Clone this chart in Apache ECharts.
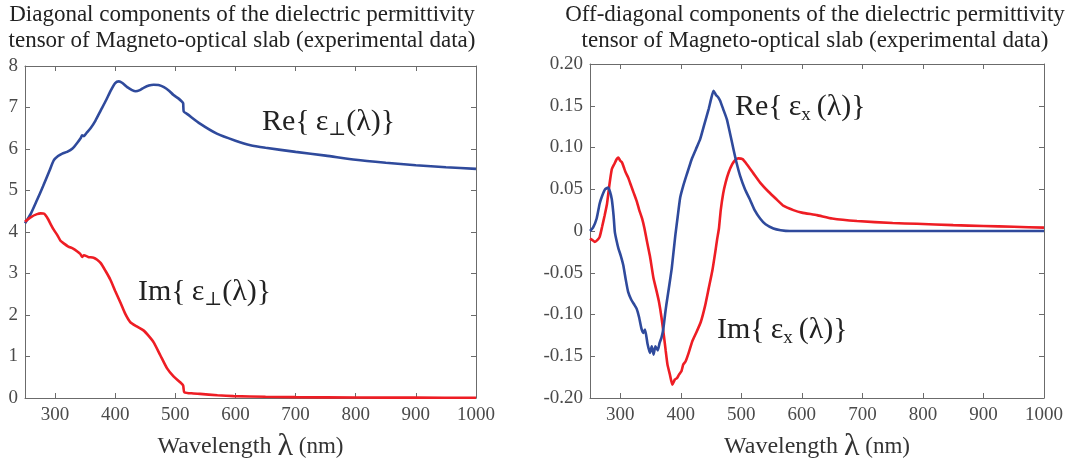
<!DOCTYPE html>
<html><head><meta charset="utf-8">
<script src="https://cdn.jsdelivr.net/npm/echarts@6/dist/echarts.min.js"></script>
<style>html,body{margin:0;padding:0;background:#fff}#c{width:1069px;height:468px}</style>
</head><body><div id="c"></div>
<script>
// ---- Data ----
const xTicks = [300,400,500,600,700,800,900,1000];

// Left panel: diagonal components
const diagReLambda = [250,260,270,280,290,298,305,312,320,329,337,343,345,348,352,359,367,376,385,393,400,406,412,420,428,434,441,448,456,464,472,481,490,497,505,511,513,514,520,541,569,600,625,650,700,750,800,850,900,950,1000];
const diagRe =       [4.21,4.45,4.77,5.10,5.45,5.73,5.83,5.89,5.93,6.01,6.15,6.27,6.33,6.31,6.38,6.50,6.68,6.93,7.18,7.42,7.59,7.63,7.59,7.49,7.42,7.39,7.42,7.48,7.53,7.55,7.54,7.49,7.40,7.30,7.22,7.14,7.10,6.90,6.84,6.61,6.37,6.20,6.09,6.03,5.93,5.84,5.74,5.67,5.61,5.56,5.52];

const diagImLambda = [250,260,270,276,282,288,293,298,304,309,315,322,330,337,342,345,348,355,364,370,376,384,392,400,409,417,425,435,447,456,464,475,486,497,508,513,515,530,541,570,597,650,700,800,900,1000];
const diagIm =       [4.25,4.36,4.43,4.45,4.44,4.32,4.18,4.05,3.92,3.79,3.72,3.65,3.60,3.53,3.47,3.40,3.44,3.40,3.38,3.33,3.25,3.06,2.85,2.58,2.29,2.02,1.83,1.73,1.63,1.49,1.34,1.03,0.72,0.52,0.38,0.30,0.14,0.11,0.10,0.065,0.045,0.03,0.02,0.012,0.008,0.005];

// Right panel: off-diagonal components
const offReLambda = [250,255,261,266,270,275,280,283,286,289,291,294,297,301,305,309,313,318,323,327,331,335,338,341,345,349,352,355,358,362,365,368,371,374,376,381,385,388,391,395,399,404,410,418,425,432,439,446,450,454,458,462,465,470,476,481,487,492,498,506,514,522,531,540,553,565,580,600,700,800,900,1000];
const offRe =       [0.000,0.004,0.015,0.033,0.042,0.050,0.052,0.047,0.038,0.018,-0.001,-0.012,-0.021,-0.030,-0.041,-0.058,-0.073,-0.082,-0.088,-0.093,-0.103,-0.117,-0.122,-0.118,-0.135,-0.146,-0.138,-0.148,-0.138,-0.143,-0.134,-0.128,-0.118,-0.100,-0.089,-0.065,-0.045,-0.025,-0.005,0.018,0.040,0.054,0.068,0.086,0.098,0.110,0.128,0.146,0.158,0.168,0.163,0.160,0.156,0.146,0.134,0.118,0.098,0.082,0.066,0.050,0.038,0.025,0.015,0.008,0.003,0.001,0.000,0.000,0.000,0.000,0.000,0.000];

const offImLambda = [250,254,258,262,266,270,274,278,282,286,290,294,297,300,303,306,309,313,318,322,327,331,336,340,344,349,355,360,364,368,372,375,378,382,386,390,394,397,401,404,408,413,419,426,433,440,446,452,457,460,463,466,470,474,479,485,490,495,502,509,520,531,545,558,570,586,600,625,650,691,750,790,850,900,950,1000];
const offIm =       [-0.009,-0.011,-0.013,-0.011,-0.007,0.005,0.018,0.032,0.055,0.074,0.080,0.086,0.088,0.084,0.082,0.076,0.070,0.064,0.054,0.046,0.036,0.026,0.015,0.003,-0.012,-0.030,-0.057,-0.072,-0.085,-0.103,-0.125,-0.143,-0.160,-0.172,-0.184,-0.178,-0.176,-0.172,-0.168,-0.160,-0.156,-0.146,-0.132,-0.121,-0.109,-0.090,-0.069,-0.048,-0.025,-0.010,0.003,0.025,0.045,0.058,0.070,0.080,0.085,0.087,0.086,0.080,0.069,0.058,0.047,0.038,0.030,0.025,0.022,0.019,0.015,0.012,0.0095,0.0086,0.007,0.006,0.005,0.004];

const zip = (xs, ys) => xs.map((x, i) => [x, ys[i]]);

// ---- Styles ----
const SERIF = '"Liberation Serif","DejaVu Serif",serif';
const AXIS_COLOR = '#6b6b6b';
const LABEL_COLOR = '#4a4a4a';
const BLUE = '#2f4a9c';
const RED = '#ee1d24';

function xAxisDef(grid, pos, show) {
  return {
    type: 'value', gridIndex: grid, position: pos, min: 250, max: 1000,
    axisLine: { show: true, onZero: false, lineStyle: { color: AXIS_COLOR, width: 1 } },
    axisTick: { show: true, inside: true, length: 5, customValues: xTicks, lineStyle: { color: AXIS_COLOR } },
    axisLabel: { show: show, customValues: xTicks, margin: 8, fontFamily: SERIF, fontSize: 19, color: LABEL_COLOR, formatter: v => String(v) },
    splitLine: { show: false },
    name: show ? '{w|Wavelength }{l|λ}{n| (nm)}' : '',
    nameLocation: 'middle', nameGap: 33,
    nameTextStyle: { fontFamily: SERIF, fontSize: 24, color: '#333',
      rich: { w: { fontFamily: SERIF, fontSize: 24, color: '#333' },
              l: { fontFamily: SERIF, fontSize: 32, color: '#333' },
              n: { fontFamily: SERIF, fontSize: 23, color: '#333' } } }
  };
}
function yAxisDef(grid, pos, show, min, max, interval, fmt) {
  return {
    type: 'value', gridIndex: grid, position: pos, min: min, max: max, interval: interval,
    axisLine: { show: true, onZero: false, lineStyle: { color: AXIS_COLOR, width: 1 } },
    axisTick: { show: true, inside: true, length: 5, lineStyle: { color: AXIS_COLOR } },
    axisLabel: { show: show, margin: 7, fontFamily: SERIF, fontSize: 19, color: LABEL_COLOR, formatter: fmt },
    splitLine: { show: false }
  };
}

const chart = echarts.init(document.getElementById('c'), null, { renderer: 'canvas' });

function annot(x, y, pre, sub, post) {
  return {
    type: 'text', left: x, top: y, z: 100,
    style: {
      text: pre + '{s|' + sub + '}' + post,
      fontFamily: SERIF, fontSize: 30, fill: '#222', lineHeight: 36,
      rich: { s: { fontFamily: SERIF, fontSize: 19, fill: '#222', verticalAlign: 'bottom', lineHeight: 36 } }
    }
  };
}
function titleText(cx, lines) {
  return {
    type: 'text', x: cx, y: 2, z: 100,
    style: { text: lines.join('\n'), fontFamily: SERIF, fontSize: 23, lineHeight: 26, fill: '#222', align: 'center' }
  };
}

const option = {
  backgroundColor: '#fff',
  animation: false,
  grid: [
    { left: 25, right: 593, top: 66, bottom: 69 },
    { left: 590, right: 25, top: 64, bottom: 68 }
  ],
  xAxis: [
    xAxisDef(0, 'bottom', true), xAxisDef(0, 'top', false),
    xAxisDef(1, 'bottom', true), xAxisDef(1, 'top', false)
  ],
  yAxis: [
    yAxisDef(0, 'left', true, 0, 8, 1, v => String(v)),
    yAxisDef(0, 'right', false, 0, 8, 1, v => String(v)),
    yAxisDef(1, 'left', true, -0.2, 0.2, 0.05, v => (Math.abs(v) < 1e-9 ? '0' : v.toFixed(2))),
    yAxisDef(1, 'right', false, -0.2, 0.2, 0.05, v => '')
  ],
  series: [
    { type: 'line', xAxisIndex: 0, yAxisIndex: 0, data: zip(diagReLambda, diagRe), showSymbol: false, smooth: 0.2, lineStyle: { color: BLUE, width: 2.6 } },
    { type: 'line', xAxisIndex: 0, yAxisIndex: 0, data: zip(diagImLambda, diagIm), showSymbol: false, smooth: 0.2, lineStyle: { color: RED, width: 2.6 } },
    { type: 'line', xAxisIndex: 2, yAxisIndex: 2, data: zip(offImLambda, offIm), showSymbol: false, smooth: 0.15, lineStyle: { color: RED, width: 2.6 } },
    { type: 'line', xAxisIndex: 2, yAxisIndex: 2, data: zip(offReLambda, offRe), showSymbol: false, smooth: 0.15, lineStyle: { color: BLUE, width: 2.6 } }
  ],
  graphic: [
    titleText(242, ['Diagonal components of the dielectric permittivity', 'tensor of Magneto-optical slab (experimental data)']),
    titleText(815, ['Off-diagonal components of the dielectric permittivity', 'tensor of Magneto-optical slab (experimental data)']),
    annot(262, 104, 'Re{\u2009ε', '⊥', '(λ)}'),
    annot(138, 274, 'Im{\u2009ε', '⊥', '(λ)}'),
    annot(735, 89, 'Re{\u2009ε', 'x', '\u2009(λ)}'),
    annot(717, 312, 'Im{\u2009ε', 'x', '\u2009(λ)}')
  ]
};
chart.setOption(option);
</script></body></html>
